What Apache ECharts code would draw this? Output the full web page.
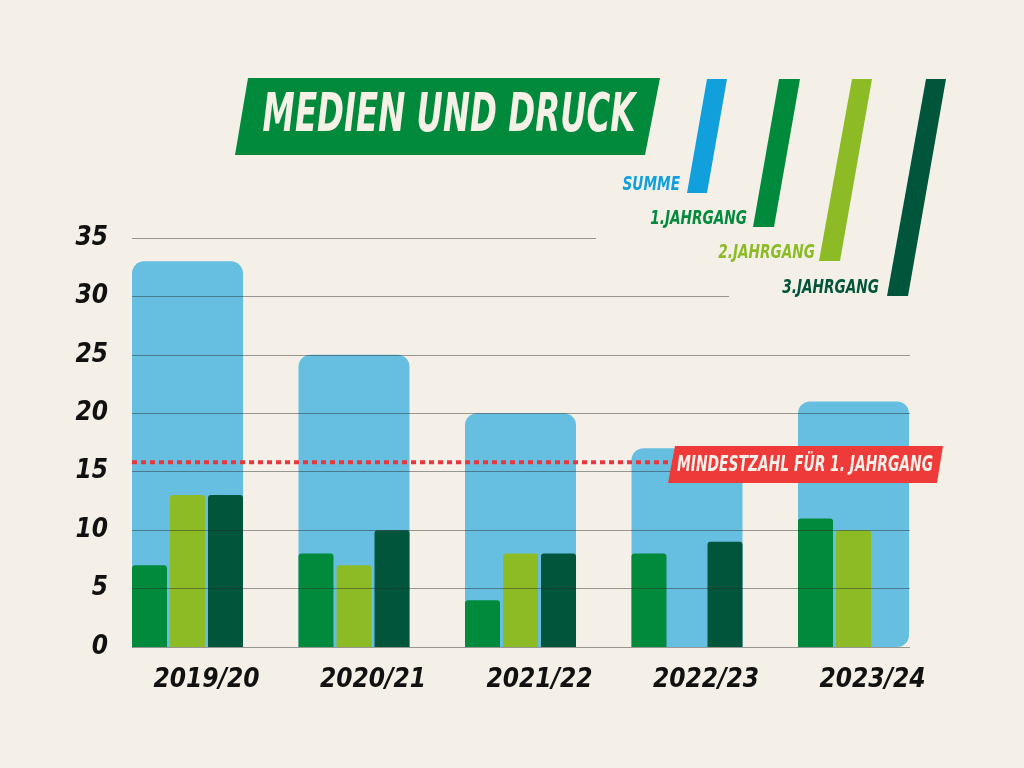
<!DOCTYPE html>
<html>
<head>
<meta charset="utf-8">
<script src="https://cdn.jsdelivr.net/npm/echarts@6/dist/echarts.min.js"></script>
<style>
html,body{margin:0;padding:0;background:#f4f0e8;}
#c{width:1024px;height:768px;}
</style>
</head>
<body>
<div id="c"></div>
<script>
const categories = ['2019/20', '2020/21', '2021/22', '2022/23', '2023/24'];
const summe = [33, 25, 20, 17, 21];
const jahrgang1 = [7, 8, 4, 8, 11];
const jahrgang2 = [13, 7, 8, 0, 10];
const jahrgang3 = [13, 10, 8, 9, 0];
const mindestzahl = 15.8;
const yTicks = [0, 5, 10, 15, 20, 25, 30, 35];

const FONT = '"DejaVu Sans Condensed", "Liberation Sans Narrow", sans-serif';
const BG = '#f4f0e8';
const C_SUM = '#66bee0', C_SUM_LEG = '#12a0dc';
const C1 = '#018a3b', C2 = '#8cbb26', C3 = '#01553a';

const chart = echarts.init(document.getElementById('c'));

const summeData = summe.map((v, i) => ({
  value: v,
  itemStyle: { borderRadius: i === summe.length - 1 ? [12, 12, 12, 0] : [12, 12, 0, 0] }
}));

function legendBar(pts, color) {
  return { type: 'polygon', z: 20, shape: { points: pts }, style: { fill: color } };
}
function legendText(txt, right, cy, color) {
  return { type: 'text', z: 20, x: right, y: cy, scaleX: 0.8,
    style: { text: txt, fill: color, font: 'italic bold 19px ' + FONT, align: 'right', verticalAlign: 'middle' } };
}

chart.setOption({
  backgroundColor: BG,
  animation: false,
  grid: [
    { left: 104.25, right: 87.25, top: 238, bottom: 121 },
    { left: 132, right: 114, top: 238, bottom: 121 }
  ],
  xAxis: [
    { type: 'category', gridIndex: 0, data: categories,
      axisLine: { show: false }, axisTick: { show: false },
      axisLabel: { margin: 20, padding: [0, 0, 0, 38], color: '#111', fontFamily: FONT,
        fontSize: 26, fontWeight: 'bold', fontStyle: 'italic' } },
    { type: 'category', gridIndex: 0, data: categories, show: false },
    { type: 'value', gridIndex: 1, min: 0, max: 1, show: false }
  ],
  yAxis: [
    { type: 'value', gridIndex: 0, min: 0, max: 35, interval: 5, show: false },
    { type: 'value', gridIndex: 1, min: 0, max: 35, interval: 5, z: 4,
      axisLine: { show: false }, axisTick: { show: false },
      axisLabel: { margin: 24, color: '#111', fontFamily: FONT, fontSize: 26,
        fontWeight: 'bold', fontStyle: 'italic',
        formatter: v => yTicks.includes(v) ? String(v) : '' },
      splitLine: { show: true, lineStyle: { color: 'rgba(40,40,40,0.45)', width: 1 } } }
  ],
  series: [
    { name: 'Summe', type: 'bar', xAxisIndex: 0, yAxisIndex: 0, barWidth: 111, z: 1,
      itemStyle: { color: C_SUM }, data: summeData },
    { name: '1.Jahrgang', type: 'bar', xAxisIndex: 1, yAxisIndex: 0, barWidth: 35, barGap: '8.6%', z: 2,
      itemStyle: { color: C1, borderRadius: [3, 3, 0, 0] }, data: jahrgang1 },
    { name: '2.Jahrgang', type: 'bar', xAxisIndex: 1, yAxisIndex: 0, barWidth: 35, barGap: '8.6%', z: 2,
      itemStyle: { color: C2, borderRadius: [3, 3, 0, 0] }, data: jahrgang2 },
    { name: '3.Jahrgang', type: 'bar', xAxisIndex: 1, yAxisIndex: 0, barWidth: 35, barGap: '8.6%', z: 2,
      itemStyle: { color: C3, borderRadius: [3, 3, 0, 0] }, data: jahrgang3 },
    { name: 'Mindestzahl', type: 'line', xAxisIndex: 2, yAxisIndex: 1, z: 6,
      symbol: 'none', silent: true,
      lineStyle: { color: '#e8383d', width: 4, type: [5, 4] },
      data: [[0, mindestzahl], [0.7, mindestzahl]] }
  ],
  graphic: [
    // covers to shorten the top grid lines behind the legend
    { type: 'rect', z: 10, shape: { x: 596, y: 235, width: 320, height: 6 }, style: { fill: BG } },
    { type: 'rect', z: 10, shape: { x: 729, y: 293, width: 190, height: 7 }, style: { fill: BG } },
    // title
    { type: 'polygon', z: 20, shape: { points: [[248, 78], [660, 78], [645, 155], [235, 155]] }, style: { fill: C1 } },
    { type: 'text', z: 21, x: 449, y: 117, scaleX: 0.68,
      style: { text: 'MEDIEN UND DRUCK', fill: '#f6f1e6', font: 'italic bold 53px ' + FONT, align: 'center', verticalAlign: 'middle' } },
    // legend
    legendBar([[707, 79], [727, 79], [707, 193], [687, 193]], C_SUM_LEG),
    legendBar([[779, 79], [800, 79], [774, 227], [753, 227]], C1),
    legendBar([[852, 79], [872, 79], [840, 261], [819, 261]], C2),
    legendBar([[926, 79], [946, 79], [908, 296], [887, 296]], C3),
    legendText('SUMME', 680, 185, C_SUM_LEG),
    legendText('1.JAHRGANG', 747, 219, C1),
    legendText('2.JAHRGANG', 815, 253, C2),
    legendText('3.JAHRGANG', 879, 288, C3),
    // threshold label
    { type: 'polygon', z: 20, shape: { points: [[675, 446], [943, 446], [937, 483], [668, 483]] }, style: { fill: '#ef3a3a' } },
    { type: 'text', z: 21, x: 805, y: 465, scaleX: 0.7,
      style: { text: 'MINDESTZAHL FÜR 1. JAHRGANG', fill: '#f8f1ea', font: 'italic bold 22px ' + FONT, align: 'center', verticalAlign: 'middle' } }
  ]
});
</script>
</body>
</html>
